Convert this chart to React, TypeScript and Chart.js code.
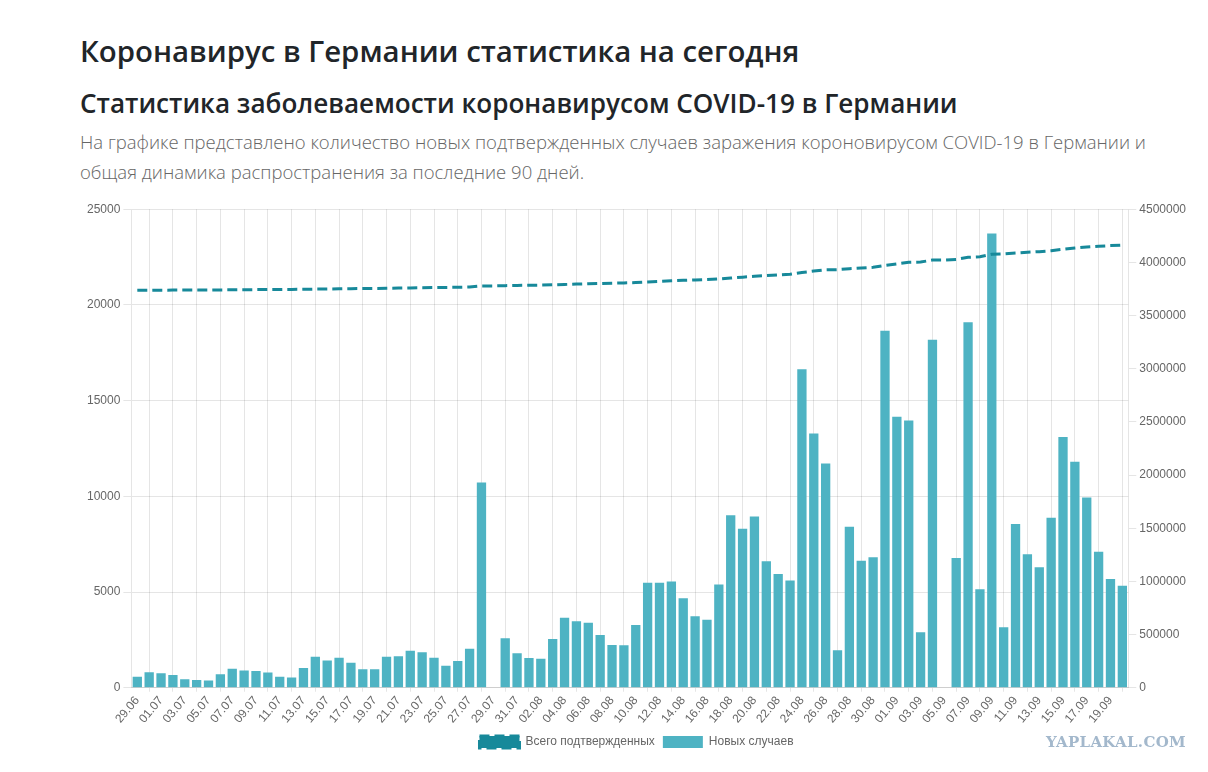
import React, { useEffect, useRef } from "react";
import { Chart, registerables } from "chart.js";

Chart.register(...registerables);

const dates: string[] = [
  "29.06", "30.06",
  "01.07", "02.07", "03.07", "04.07", "05.07", "06.07", "07.07", "08.07", "09.07", "10.07",
  "11.07", "12.07", "13.07", "14.07", "15.07", "16.07", "17.07", "18.07", "19.07", "20.07",
  "21.07", "22.07", "23.07", "24.07", "25.07", "26.07", "27.07", "28.07", "29.07", "30.07", "31.07",
  "01.08", "02.08", "03.08", "04.08", "05.08", "06.08", "07.08", "08.08", "09.08", "10.08",
  "11.08", "12.08", "13.08", "14.08", "15.08", "16.08", "17.08", "18.08", "19.08", "20.08",
  "21.08", "22.08", "23.08", "24.08", "25.08", "26.08", "27.08", "28.08", "29.08", "30.08", "31.08",
  "01.09", "02.09", "03.09", "04.09", "05.09", "06.09", "07.09", "08.09", "09.09", "10.09",
  "11.09", "12.09", "13.09", "14.09", "15.09", "16.09", "17.09", "18.09", "19.09", "20.09",
];

const newCases: number[] = [
  580, 810,
  760, 670, 450, 410, 380, 700, 990, 900, 880, 790,
  580, 540, 1030, 1620, 1420, 1570, 1300, 970, 970, 1620,
  1640, 1930, 1860, 1570, 1150, 1400, 2040, 10720, 0, 2580, 1800,
  1550, 1510, 2540, 3660, 3480, 3400, 2760, 2230, 2220, 3280,
  5490, 5490, 5550, 4670, 3730, 3550, 5400, 9010, 8300, 8950,
  6610, 5940, 5600, 16640, 13280, 11720, 1960, 8410, 6630, 6820, 18650,
  14160, 13960, 2900, 18180, 0, 6780, 19100, 5140, 23730, 3160,
  8560, 6970, 6300, 8880, 13100, 11810, 9940, 7100, 5680, 5330,
];

const totalCases: number[] = [
  3737000, 3737810,
  3738570, 3739240, 3739690, 3740100, 3740480, 3741180, 3742170, 3743070, 3743950, 3744740,
  3745320, 3745860, 3746890, 3748510, 3749930, 3751500, 3752800, 3753770, 3754740, 3756360,
  3758000, 3759930, 3761790, 3763360, 3764510, 3765910, 3767950, 3778670, 3778670, 3781250, 3783050,
  3784600, 3786110, 3788650, 3792310, 3795790, 3799190, 3801950, 3804180, 3806400, 3809680,
  3815170, 3820660, 3826210, 3830880, 3834610, 3838160, 3843560, 3852570, 3860870, 3869820,
  3876430, 3882370, 3887970, 3904610, 3917890, 3929610, 3931570, 3939980, 3946610, 3953430, 3972080,
  3986240, 4000200, 4003100, 4021280, 4021280, 4028060, 4047160, 4052300, 4076030, 4079190,
  4087750, 4094720, 4101020, 4109900, 4123000, 4134810, 4144750, 4151850, 4157530, 4162860,
];

const seriesNames: string[] = ["Всего подтвержденных", "Новых случаев"];

const LINE_COLOR = "#17899a";
const BAR_COLOR = "#4eb3c3";
const TICK_FONT = { size: 12, family: "'Helvetica Neue', Helvetica, Arial, 'Liberation Sans', sans-serif" };

function CovidChart() {
  const ref = useRef<HTMLCanvasElement | null>(null);
  useEffect(() => {
    if (!ref.current) return;
    const chart = new Chart(ref.current, {
      type: "bar",
      data: {
        labels: dates,
        datasets: [
          {
            type: "line",
            label: seriesNames[0],
            data: totalCases,
            yAxisID: "y1",
            borderColor: LINE_COLOR,
            backgroundColor: LINE_COLOR,
            borderWidth: 3,
            borderDash: [10, 5],
            pointRadius: 0,
            pointHoverRadius: 0,
            fill: false,
            tension: 0,
          } as any,
          {
            type: "bar",
            label: seriesNames[1],
            data: newCases,
            yAxisID: "y",
            backgroundColor: BAR_COLOR,
            borderWidth: 0,
            barPercentage: 0.98,
            categoryPercentage: 0.8,
          },
        ],
      },
      options: {
        animation: false,
        responsive: true,
        maintainAspectRatio: false,
        plugins: {
          legend: {
            position: "bottom",
            labels: {
              color: "#666",
              font: TICK_FONT,
              boxWidth: 40,
              padding: 8,
            },
          },
          tooltip: { enabled: false },
        },
        scales: {
          x: {
            grid: { color: "rgba(0,0,0,0.1)", offset: true, tickLength: 4 },
            ticks: {
              color: "#666",
              font: TICK_FONT,
              maxRotation: 50,
              minRotation: 50,
              padding: 2,
            },
          },
          y: {
            position: "left",
            min: 0,
            max: 25000,
            ticks: {
              stepSize: 5000,
              color: "#666",
              font: TICK_FONT,
              callback: (v: any) => String(v),
            },
            grid: { color: "rgba(0,0,0,0.1)" },
          },
          y1: {
            position: "right",
            min: 0,
            max: 4500000,
            ticks: {
              stepSize: 500000,
              color: "#666",
              font: TICK_FONT,
              callback: (v: any) => String(v),
            },
            grid: { drawOnChartArea: false, color: "rgba(0,0,0,0.1)" },
          },
        },
      },
    });
    return () => chart.destroy();
  }, []);
  return <canvas ref={ref} />;
}

export default function App() {
  const font = "'Open Sans', 'Noto Sans', sans-serif";
  return (
    <div style={{ position: "absolute", left: 0, top: 0, width: 1208, height: 772, fontFamily: font }}>
      <div
        style={{
          position: "absolute",
          left: 80,
          top: 33,
          fontSize: 29.4,
          fontWeight: 600,
          lineHeight: "36px",
          color: "#212529",
          whiteSpace: "nowrap",
        }}
      >
        Коронавирус в Германии статистика на сегодня
      </div>
      <div
        style={{
          position: "absolute",
          left: 80,
          top: 87,
          fontSize: 26.1,
          fontWeight: 600,
          lineHeight: "32px",
          color: "#212529",
          whiteSpace: "nowrap",
        }}
      >
        Статистика заболеваемости коронавирусом COVID-19 в Германии
      </div>
      <div
        style={{
          position: "absolute",
          left: 80,
          top: 127,
          width: 1110,
          fontSize: 18.5,
          fontWeight: 300,
          lineHeight: "30px",
          color: "#666",
        }}
      >
        На графике представлено количество новых подтвержденных случаев заражения короновирусом COVID-19 в Германии и
        общая динамика распространения за последние 90 дней.
      </div>
      <div style={{ position: "absolute", left: 84, top: 199, width: 1105, height: 559 }}>
        <CovidChart />
      </div>
      <div
        style={{
          position: "absolute",
          left: 1046,
          top: 733,
          fontSize: 15,
          fontWeight: 700,
          fontFamily: "'DejaVu Serif', serif",
          color: "#a3b8cc",
          letterSpacing: 0.3,
        }}
      >
        YAPLAKAL.COM
      </div>
    </div>
  );
}
